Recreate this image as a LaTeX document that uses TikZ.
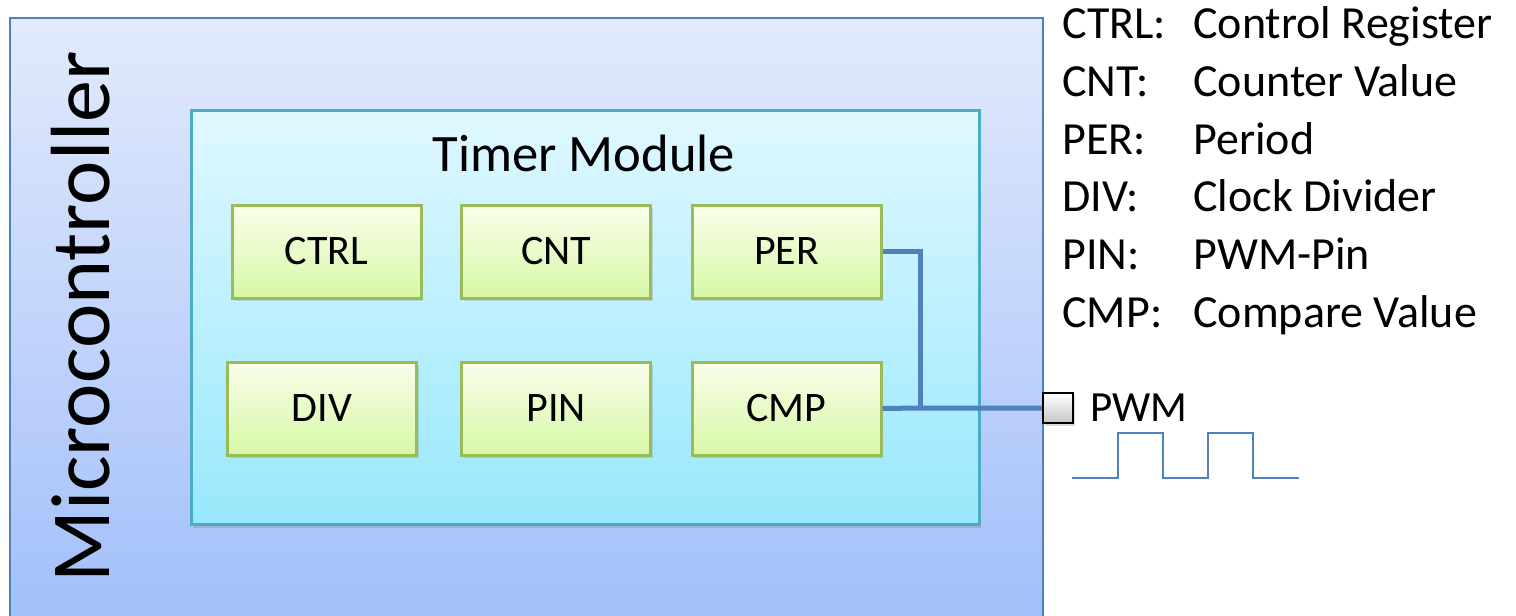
\documentclass[tikz,border=0pt]{standalone}
\usepackage{fontspec}
\setmainfont{Carlito}
\usetikzlibrary{shadows}

\definecolor{microTop}{RGB}{226,234,252}
\definecolor{microBot}{RGB}{160,190,250}
\definecolor{microLine}{RGB}{79,129,189}
\definecolor{timerTop}{RGB}{224,248,255}
\definecolor{timerBot}{RGB}{152,232,252}
\definecolor{timerLine}{RGB}{75,172,198}
\definecolor{regTop}{RGB}{250,254,234}
\definecolor{regBot}{RGB}{214,248,166}
\definecolor{regLine}{RGB}{155,187,89}
\definecolor{wireBlue}{RGB}{79,129,189}

\tikzset{
  regbox/.style={draw=regLine, line width=1.5pt, top color=regTop, bottom color=regBot,
    minimum width=94.5pt, minimum height=46.5pt, inner sep=0pt, font=\fontsize{21}{25}\selectfont,
    drop shadow={opacity=0.25, shadow xshift=1pt, shadow yshift=-1.5pt}},
  legend/.style={anchor=base west, inner sep=0pt, font=\fontsize{23}{27}\selectfont},
  wire/.style={draw=wireBlue, line width=2.5pt},
}

\begin{document}
\begin{tikzpicture}[x=0.5pt,y=0.5pt,yscale=-1,xscale=1]
        \useasboundingbox (0,0) rectangle (1516,616);
        
        %Microcontroller
        \draw [draw=microLine, line width=1pt, top color=microTop, bottom color=microBot] (10,18) rectangle (1043,640);
        \node [rotate=90, anchor=base, inner sep=0pt, font=\fontsize{42}{48}\selectfont] (mcu) at (109,317) {Microcontroller};
        
        %Timer module
        \draw [draw=timerLine, line width=1.5pt, top color=timerTop, bottom color=timerBot,
          drop shadow={opacity=0.3, shadow xshift=1pt, shadow yshift=-2pt}] (191,110) rectangle (979,524);
        \node [anchor=base, inner sep=0pt, font=\fontsize{26.3}{30}\selectfont] (timer) at (584,171) {Timer Module};
        
        %Registers
        \node [regbox] (ctrl) at (326.5,251.5) {CTRL};
        \node [regbox] (cnt) at (556,251.5) {CNT};
        \node [regbox] (per) at (786.5,251.5) {PER};
        \node [regbox] (div) at (322,408.5) {DIV};
        \node [regbox] (pin) at (556,408.5) {PIN};
        \node [regbox] (cmp) at (786.5,408.5) {CMP};
        
        %PWM pin
        \node [draw=black, line width=1pt, top color=white, bottom color=black!22, minimum size=15pt, inner sep=0pt,
          drop shadow={opacity=0.3, shadow xshift=1pt, shadow yshift=-1.5pt}] (pwm) at (1058,408) {};
        \node [anchor=west, inner sep=0pt, font=\fontsize{21.5}{25}\selectfont] (pwmlabel) at (1090,408) {PWM};
        
        %Wires
        \coordinate (join) at (920,408);
        \draw [wire] (per.east) -| (join);
        \draw [wire] (cmp.east) -- (join) -- (pwm.west);
        
        %Waveform
        \draw [draw=wireBlue, line width=1pt] (1072,478) -- (1118,478) -- (1118,433) -- (1163,433) -- (1163,478) -- (1208,478) -- (1208,433) -- (1253,433) -- (1253,478) -- (1299,478);
        
        %Legend
        \node [legend] (l1) at (1062,38) {CTRL:};
        \node [legend] (l2) at (1062,96) {CNT:};
        \node [legend] (l3) at (1062,154) {PER:};
        \node [legend] (l4) at (1062,211) {DIV:};
        \node [legend] (l5) at (1062,269) {PIN:};
        \node [legend] (l6) at (1062,327) {CMP:};
        \node [legend] (d1) at (1193,38) {Control Register};
        \node [legend] (d2) at (1193,96) {Counter Value};
        \node [legend] (d3) at (1193,154) {Period};
        \node [legend] (d4) at (1193,211) {Clock Divider};
        \node [legend] (d5) at (1193,269) {PWM-Pin};
        \node [legend] (d6) at (1193,327) {Compare Value};
\end{tikzpicture}
\end{document}
